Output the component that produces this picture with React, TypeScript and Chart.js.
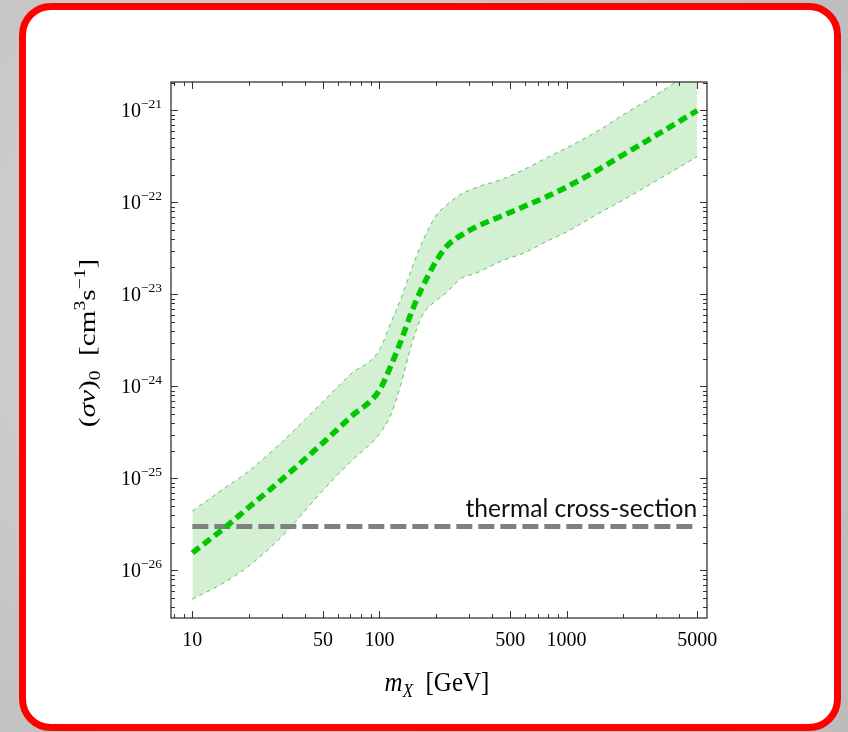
import { useEffect, useRef } from "react";
import { Chart, registerables } from "chart.js";

Chart.register(...registerables);

// ---- data ----
const massGeV = [10, 15, 20, 30, 50, 70, 100, 115, 130, 150, 170, 200, 230, 270, 330, 450, 600, 800, 1000, 1500, 2000, 3000, 5000];
const sigmaCentral = [1.55e-26, 2.95e-26, 4.84e-26, 9.7e-26, 2.45e-25, 4.63e-25, 9.1e-25, 1.67e-24, 3.08e-24, 6.8e-24, 1.21e-23, 2.26e-23, 3.37e-23, 4.33e-23, 5.45e-23, 7.13e-23, 9.16e-23, 1.18e-22, 1.47e-22, 2.31e-22, 3.28e-22, 5.35e-22, 1.0e-21];
const sigmaUpper = [4.43e-26, 7.96e-26, 1.2e-25, 2.47e-25, 6.86e-25, 1.35e-24, 2.49e-24, 4.9e-24, 8.9e-24, 1.99e-23, 3.77e-23, 7.13e-23, 9.5e-23, 1.21e-22, 1.46e-22, 1.78e-22, 2.31e-22, 3.13e-22, 3.91e-22, 6.14e-22, 8.93e-22, 1.47e-21, 2.9e-21];
const sigmaLower = [4.86e-27, 7.5e-27, 1.11e-26, 2.32e-26, 7.45e-26, 1.51e-25, 3.05e-25, 4.9e-25, 1.04e-24, 3.05e-24, 5.98e-24, 8.5e-24, 1.06e-23, 1.47e-23, 1.71e-23, 2.31e-23, 2.86e-23, 3.86e-23, 4.78e-23, 7.69e-23, 1.06e-22, 1.71e-22, 3.15e-22];
const thermalMass = [10, 5000];
const thermalSigma = [3e-26, 3e-26];
const thermalLabel = "thermal cross-section";

const xTickValues = [10, 50, 100, 500, 1000, 5000];
const yTickExponents = [-26, -25, -24, -23, -22, -21];
const xRange = [7.69, 5636];
const yRange = [3.04e-27, 2.04e-21];

const SERIF = "'Liberation Serif', 'Times New Roman', serif";

type Run = { text: string; size: number; italic?: boolean; dy?: number };

function drawRuns(ctx: CanvasRenderingContext2D, runs: Run[], cx: number, y: number, align: "center" | "right") {
  const widths = runs.map((r) => {
    ctx.font = `${r.italic ? "italic " : ""}${r.size}px ${SERIF}`;
    return ctx.measureText(r.text).width;
  });
  const total = widths.reduce((a, b) => a + b, 0);
  let x = align === "center" ? cx - total / 2 : cx - total;
  ctx.textAlign = "left";
  ctx.textBaseline = "alphabetic";
  runs.forEach((r, i) => {
    ctx.font = `${r.italic ? "italic " : ""}${r.size}px ${SERIF}`;
    ctx.fillText(r.text, x, y + (r.dy || 0));
    x += widths[i];
  });
}

export default function App() {
  const ref = useRef<HTMLCanvasElement>(null);

  useEffect(() => {
    const canvas = ref.current;
    if (!canvas) return;

    const framePlugin = {
      id: "mathematicaFrame",
      afterDraw(chart: any) {
        const ctx: CanvasRenderingContext2D = chart.ctx;
        const { left, right, top, bottom } = chart.chartArea;
        const xs = chart.scales.x;
        const ys = chart.scales.y;
        ctx.save();

        // thermal label
        ctx.fillStyle = "#111";
        ctx.font = "24.6px Lato, 'Open Sans', sans-serif";
        ctx.textAlign = "right";
        ctx.textBaseline = "alphabetic";
        ctx.fillText(thermalLabel, xs.getPixelForValue(thermalMass[1]), ys.getPixelForValue(thermalSigma[1]) - 10);

        // frame
        ctx.strokeStyle = "#333";
        ctx.lineWidth = 1.3;
        ctx.strokeRect(left, top, right - left, bottom - top);

        // x ticks (inward, top and bottom)
        ctx.lineWidth = 1;
        const drawX = (v: number, len: number) => {
          const px = Math.round(xs.getPixelForValue(v)) + 0.5;
          if (px < left || px > right) return;
          ctx.beginPath();
          ctx.moveTo(px, bottom);
          ctx.lineTo(px, bottom - len);
          ctx.moveTo(px, top);
          ctx.lineTo(px, top + len);
          ctx.stroke();
        };
        for (let d = 0; d <= 4; d++) {
          for (let k = 1; k <= 9; k++) {
            const v = k * Math.pow(10, d);
            if (v < xRange[0] || v > xRange[1]) continue;
            drawX(v, xTickValues.includes(v) ? 7 : 4);
          }
        }
        // y ticks (inward, left and right)
        const drawY = (v: number, len: number) => {
          const py = Math.round(ys.getPixelForValue(v)) + 0.5;
          if (py < top || py > bottom) return;
          ctx.beginPath();
          ctx.moveTo(left, py);
          ctx.lineTo(left + len, py);
          ctx.moveTo(right, py);
          ctx.lineTo(right - len, py);
          ctx.stroke();
        };
        for (let e = -27; e <= -21; e++) {
          for (let k = 1; k <= 9; k++) {
            const v = k * Math.pow(10, e);
            if (v < yRange[0] || v > yRange[1]) continue;
            drawY(v, k === 1 ? 7 : 4);
          }
        }

        // y tick labels 10^n
        ctx.fillStyle = "#000";
        yTickExponents.forEach((e) => {
          const py = ys.getPixelForValue(Math.pow(10, e));
          drawRuns(
            ctx,
            [
              { text: "10", size: 20 },
              { text: "\u2212" + Math.abs(e), size: 13.5, dy: -8.5 },
            ],
            left - 9,
            py + 6.5,
            "right"
          );
        });

        // x axis title
        ctx.save();
        ctx.translate(0, 691);
        ctx.scale(1, 1.12);
        drawRuns(
          ctx,
          [
            { text: "m", size: 25, italic: true },
            { text: "X", size: 17, italic: true, dy: 5 },
            { text: "  [GeV]", size: 25 },
          ],
          (left + right) / 2 - 2,
          0,
          "center"
        );
        ctx.restore();

        // y axis title (rotated)
        ctx.save();
        ctx.translate(95, 343);
        ctx.rotate(-Math.PI / 2);
        ctx.scale(1.22, 1);
        drawRuns(
          ctx,
          [
            { text: "(", size: 24 },
            { text: "σv", size: 24, italic: true },
            { text: ")", size: 24 },
            { text: "0", size: 16, dy: 5 },
            { text: "  [cm", size: 24 },
            { text: "3", size: 16, dy: -10 },
            { text: "s", size: 24 },
            { text: "\u22121", size: 16, dy: -10 },
            { text: "]", size: 24 },
          ],
          0,
          0,
          "center"
        );
        ctx.restore();
        ctx.restore();
      },
    };

    const pts = (xs: number[], ys: number[]) => xs.map((x, i) => ({ x, y: ys[i] }));

    const chart = new Chart(canvas, {
      type: "line",
      data: {
        datasets: [
          {
            label: "central",
            data: pts(massGeV, sigmaCentral),
            borderColor: "#00c800",
            borderWidth: 5.5,
            borderDash: [9, 5],
            borderCapStyle: "butt",
            pointRadius: 0,
            fill: false,
            cubicInterpolationMode: "monotone",
            order: 0,
          },
          {
            label: "thermal",
            data: pts(thermalMass, thermalSigma),
            borderColor: "#808080",
            borderWidth: 5,
            borderDash: [16, 6],
            borderCapStyle: "butt",
            pointRadius: 0,
            fill: false,
            order: 1,
          },
          {
            label: "upper",
            data: pts(massGeV, sigmaUpper),
            borderColor: "#62bf62",
            borderWidth: 1,
            borderDash: [4, 4],
            pointRadius: 0,
            backgroundColor: "#d3f0d3",
            fill: "+1",
            cubicInterpolationMode: "monotone",
            order: 2,
          },
          {
            label: "lower",
            data: pts(massGeV, sigmaLower),
            borderColor: "#62bf62",
            borderWidth: 1,
            borderDash: [4, 4],
            pointRadius: 0,
            fill: false,
            cubicInterpolationMode: "monotone",
            order: 3,
          },
        ],
      } as any,
      options: {
        animation: false,
        responsive: false,
        devicePixelRatio: 1,
        layout: { padding: { left: 171, top: 82, right: 141, bottom: 74 } },
        plugins: {
          legend: { display: false },
          tooltip: { enabled: false },
          filler: { drawTime: "beforeDatasetsDraw" },
        },
        scales: {
          x: {
            type: "logarithmic",
            min: xRange[0],
            max: xRange[1],
            afterBuildTicks: (s: any) => {
              s.ticks = xTickValues.map((v) => ({ value: v }));
            },
            afterFit: (s: any) => {
              s.height = 40;
            },
            ticks: {
              autoSkip: false,
              maxRotation: 0,
              minRotation: 0,
              padding: 11,
              color: "#000",
              font: { family: SERIF, size: 20 },
              callback: (v: any) => String(v),
            },
            grid: { display: false, drawTicks: false },
            border: { display: false },
          },
          y: {
            type: "logarithmic",
            min: yRange[0],
            max: yRange[1],
            afterFit: (s: any) => {
              s.width = 0;
            },
            ticks: { display: false },
            grid: { display: false, drawTicks: false },
            border: { display: false },
          },
        },
      } as any,
      plugins: [framePlugin],
    });

    return () => chart.destroy();
  }, []);

  return (
    <div
      style={{
        position: "fixed",
        left: 0,
        top: 0,
        width: 848,
        height: 732,
        overflow: "hidden",
        background: "radial-gradient(circle at 30% 40%, #d6d6d6 0%, #c4c4c4 60%, #bcbcbc 100%)",
      }}
    >
      <div
        style={{
          position: "absolute",
          left: 19,
          top: 3,
          width: 822,
          height: 728,
          boxSizing: "border-box",
          border: "7px solid #ff0000",
          borderRadius: 32,
          background: "#ffffff",
        }}
      />
      <canvas
        ref={ref}
        width={848}
        height={732}
        style={{ position: "absolute", left: 0, top: 0, width: 848, height: 732 }}
      />
    </div>
  );
}
